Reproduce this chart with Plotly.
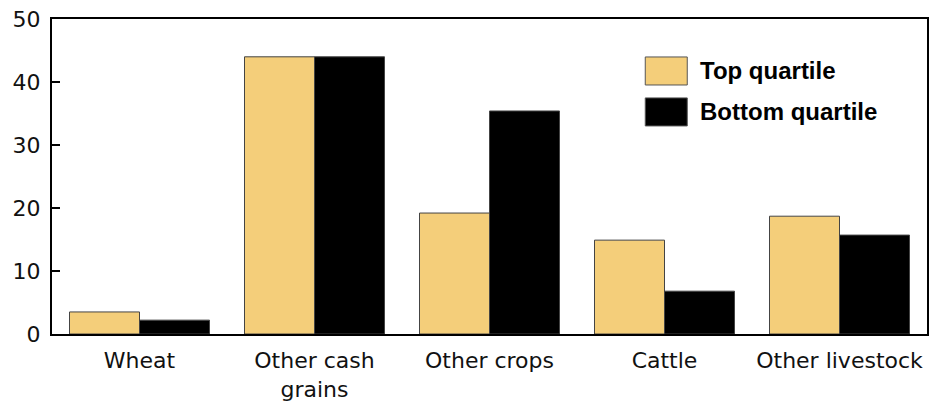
import plotly.graph_objects as go

categories = ["Wheat", "Other cash<br>grains", "Other crops", "Cattle", "Other livestock"]
top_quartile = [3.5, 44.0, 19.2, 14.9, 18.7]
bottom_quartile = [2.2, 44.0, 35.4, 6.8, 15.7]
series_names = ["Top quartile", "Bottom quartile"]
colors = ["#F4CE7A", "#000000"]
y_ticks = [0, 10, 20, 30, 40, 50]

fig = go.Figure()
for name, vals, c in zip(series_names, [top_quartile, bottom_quartile], colors):
    fig.add_trace(go.Bar(x=categories, y=vals, name=name, marker=dict(color=c, line=dict(color="#444444", width=1)),
                         showlegend=False))

font_family = "DejaVu Sans"
fig.update_layout(
    width=946, height=403,
    margin=dict(l=52, r=19, t=19, b=69),
    barmode="group", bargap=0.2, bargroupgap=0,
    plot_bgcolor="white", paper_bgcolor="white",
    font=dict(family=font_family, size=22, color="#111111"),
    xaxis=dict(showline=True, linecolor="black", linewidth=2, mirror=True, ticks="",
               tickfont=dict(size=22), ticklabelstandoff=6, automargin=False),
    yaxis=dict(range=[0, 50], tickvals=y_ticks, showline=True, linecolor="black", linewidth=2, mirror=True,
               ticks="inside", ticklen=8, tickwidth=2, tickcolor="black", showgrid=False, zeroline=False,
               tickfont=dict(size=22), ticklabelstandoff=5, automargin=False),
)

# Legend drawn manually with large swatches
leg_y = [0.835, 0.705]
for i, (name, c) in enumerate(zip(series_names, colors)):
    fig.add_shape(type="rect", xref="paper", yref="paper", x0=0.678, x1=0.726, y0=leg_y[i] - 0.0445, y1=leg_y[i] + 0.0445,
                  fillcolor=c, line=dict(color="#555555", width=1))
    fig.add_annotation(xref="paper", yref="paper", x=0.738, y=leg_y[i], text="<b>" + name + "</b>",
                       showarrow=False, xanchor="left", yanchor="middle",
                       font=dict(family="Liberation Sans", size=24, color="black"))

fig.write_html("out.html")
